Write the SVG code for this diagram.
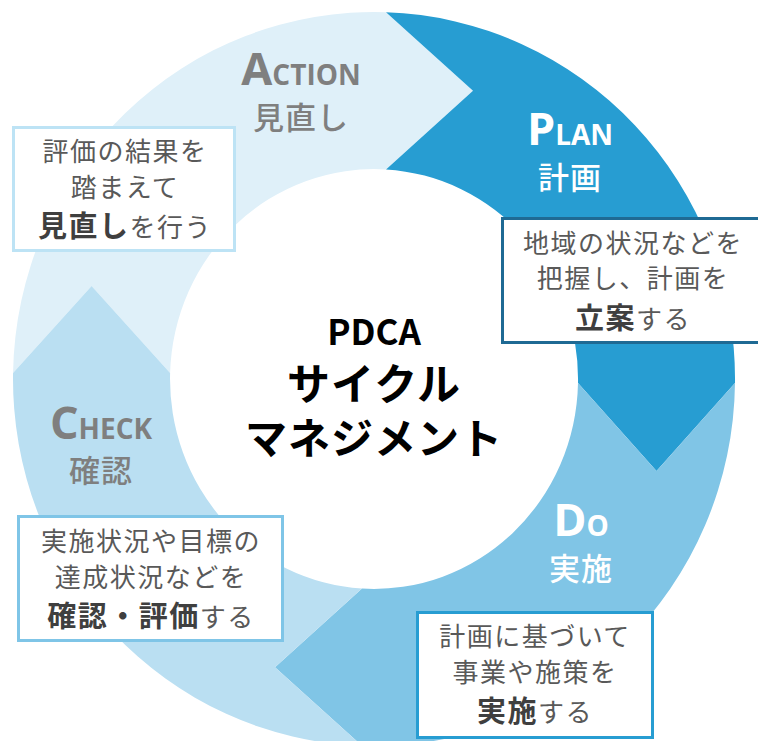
<svg xmlns="http://www.w3.org/2000/svg" width="758" height="741" viewBox="0 0 758 741">
<style>
.box{fill:#ffffff;stroke-width:3;}
.bt{font-family:"Noto Sans CJK JP",sans-serif;font-size:26px;fill:#595959;text-anchor:middle;letter-spacing:1.5px;}
.bb{font-weight:700;font-size:29px;fill:#3f3f3f;}
.lab{font-family:"Open Sans","Noto Sans",sans-serif;font-weight:700;text-anchor:middle;}
.big{font-size:45px;}
.sm{font-size:28px;}
.kj{font-family:"Noto Sans CJK JP",sans-serif;font-size:31px;font-weight:500;text-anchor:middle;letter-spacing:1px;}
.gray{fill:#7f7f7f;}
.white{fill:#ffffff;}
.ctr{font-family:"Noto Sans CJK JP",sans-serif;font-weight:700;fill:#000000;text-anchor:middle;}
</style>
<rect width="758" height="741" fill="#ffffff"/>
<g id="connectors"></g>
<g id="action">
<path d="M 13.05,373 A 361 367 0 0 1 386,12.2 L 473,90.8 L 386,169.4 A 204 210 0 0 0 170.1,373 L 91.6,286 Z" fill="#dff0f9"/>
<text class="lab gray" x="301" y="85"><tspan class="big">A</tspan><tspan class="sm">CTION</tspan></text>
<text class="kj gray" x="301" y="129">見直し</text>
<rect class="box" x="13.5" y="127.5" width="221" height="123" stroke="#bde3f5"/>
<text class="bt" x="125" y="161">評価の結果を</text>
<text class="bt" x="125" y="197">踏まえて</text>
<text class="bt" x="125" y="237"><tspan class="bb">見直し</tspan>を行う</text>
</g>
<g id="plan">
<path d="M 386,12.2 A 361 367 0 0 1 735,383 L 656.5,471 L 578,383 A 204 210 0 0 0 386,169.4 L 473,90.8 Z" fill="#279dd2"/>
<text class="lab white" x="570" y="145"><tspan class="big">P</tspan><tspan class="sm">LAN</tspan></text>
<text class="kj white" x="570" y="189">計画</text>
<rect class="box" x="502.5" y="218.5" width="270" height="124" stroke="#1f6a94"/>
<text class="bt" x="633" y="253">地域の状況などを</text>
<text class="bt" x="633" y="288">把握し、計画を</text>
<text class="bt" x="633" y="329"><tspan class="bb">立案</tspan>する</text>
</g>
<g id="do">
<path d="M 735,383 A 361 367 0 0 1 362,745.8 L 275,667.2 L 362,588.6 A 204 210 0 0 0 578,383 L 656.5,471 Z" fill="#80c5e6"/>
<text class="lab white" x="581" y="536"><tspan class="big">D</tspan><tspan class="sm">O</tspan></text>
<text class="kj white" x="581" y="580">実施</text>
<rect class="box" x="417.5" y="612.5" width="235" height="125" stroke="#279dd2"/>
<text class="bt" x="535" y="646">計画に基づいて</text>
<text class="bt" x="535" y="682">事業や施策を</text>
<text class="bt" x="535" y="722"><tspan class="bb">実施</tspan>する</text>
</g>
<g id="check">
<path d="M 362,745.8 A 361 367 0 0 1 13.05,373 L 91.6,286 L 170.1,373 A 204 210 0 0 0 362,588.6 L 275,667.2 Z" fill="#badff2"/>
<text class="lab gray" x="101" y="439"><tspan class="big">C</tspan><tspan class="sm">HECK</tspan></text>
<text class="kj gray" x="101" y="482">確認</text>
<rect class="box" x="18.5" y="516.5" width="264" height="124" stroke="#7fc5e7"/>
<text class="bt" x="151" y="551">実施状況や目標の</text>
<text class="bt" x="151" y="587">達成状況などを</text>
<text class="bt" x="151" y="627"><tspan class="bb">確認・評価</tspan>する</text>
</g>
<g id="center">
<text class="ctr"><tspan x="374" y="345" font-size="35">PDCA</tspan><tspan x="374" y="400" font-size="43" letter-spacing="1">サイクル</tspan><tspan x="374" y="454" font-size="42" letter-spacing="1">マネジメント</tspan></text>
</g>
</svg>
